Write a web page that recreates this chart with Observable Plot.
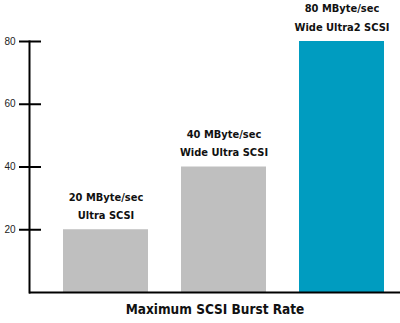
<!DOCTYPE html>
<html><head><meta charset="utf-8">
<script src="https://cdn.jsdelivr.net/npm/d3@7"></script>
<script src="https://cdn.jsdelivr.net/npm/@observablehq/plot@0.6"></script>
<style>html,body{margin:0;padding:0;background:#fff}</style>
</head><body><div id="chart"></div>
<script>
const categories = ["Ultra SCSI", "Wide Ultra SCSI", "Wide Ultra2 SCSI"];
const rates = [20, 40, 80];
const rateLabels = ["20 MByte/sec", "40 MByte/sec", "80 MByte/sec"];
const barColors = ["#bfbfbf", "#bfbfbf", "#009cc0"];
const yTicks = [20, 40, 60, 80];
const title = "Maximum SCSI Burst Rate";

const data = categories.map((c, i) => ({name: c, rate: rates[i], label: rateLabels[i] + "\n" + c, color: barColors[i]}));
const condensed = "'DejaVu Sans Condensed', 'DejaVu Sans', sans-serif";

const plot = Plot.plot({
  width: 400, height: 323,
  marginLeft: 29, marginRight: 0, marginTop: 41, marginBottom: 31,
  x: {domain: categories, paddingInner: 0.283, paddingOuter: 0.207, align: 0.68, axis: null},
  y: {domain: [0, 80], axis: null},
  color: {type: "identity"},
  style: {background: "#fff", fontFamily: condensed},
  marks: [
    Plot.barY(data, {x: "name", y: "rate", fill: "color"}),
    Plot.ruleY([0], {stroke: "#000", strokeWidth: 2}),
    Plot.frame({anchor: "left", stroke: "#000", strokeWidth: 2}),
    Plot.axisY(yTicks, {tickSize: 22, dx: 12, text: null, label: null, stroke: "#000", strokeWidth: 2}),
    Plot.axisY(yTicks, {tickSize: 0, tickPadding: 14, label: null, fontSize: 10, fill: "#222", fontFamily: "'Liberation Sans', Arial, sans-serif"}),
    Plot.text(data, {x: "name", y: "rate", text: "label", lineAnchor: "bottom", dy: -11, lineHeight: 1.64, fontSize: 11, fontWeight: "bold", fill: "#111"}),
    Plot.text([title], {frameAnchor: "bottom", dy: 21, fontSize: 13.5, fontWeight: "bold", fill: "#111"})
  ]
});
document.getElementById("chart").append(plot);
</script>
</body></html>
